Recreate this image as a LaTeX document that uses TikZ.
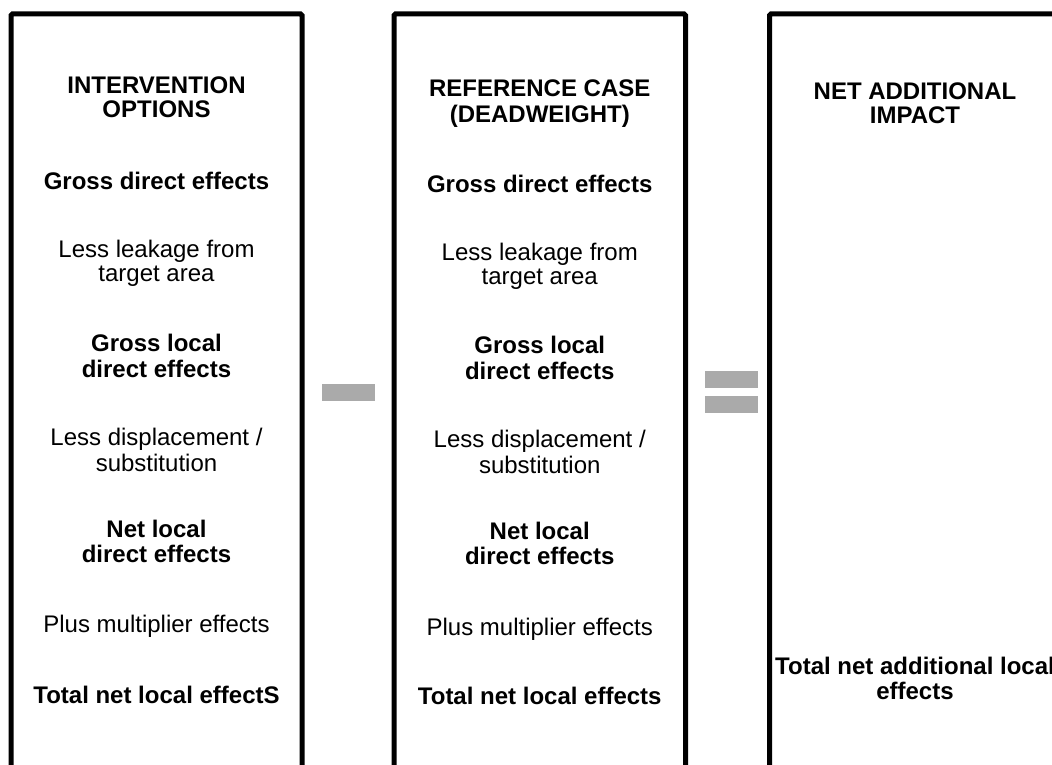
\documentclass[tikz,border=0pt]{standalone}
\usepackage{fontspec}
\setmainfont{Liberation Sans}
\definecolor{opgray}{RGB}{170,170,170}
\newcommand{\sline}[1]{\strut #1}
\begin{document}
\begin{tikzpicture}[x=1pt,y=-1pt,
  frame/.style={line width=5pt, rounded corners=1.5pt, draw=black},
  bold/.style={font=\fontsize{24}{24}\selectfont\bfseries, align=center, inner sep=0pt, anchor=center},
  plain/.style={font=\fontsize{24}{24}\selectfont, align=center, inner sep=0pt, anchor=center},
  bar/.style={fill=opgray, draw=none, minimum width=53pt, minimum height=17pt, inner sep=0pt}]
\useasboundingbox (0,0) rectangle (1052,765);
\clip (0,0) rectangle (1052,765);
% frames
\draw[frame] (11,790) -- (11,14) -- (302,14) -- (302,790);
\draw[frame] (394,790) -- (394,14) -- (685.5,14) -- (685.5,790);
\draw[frame] (769.5,790) -- (769.5,14) -- (1062,14) -- (1062,790);
% column 1
\node[bold]  (h1) at (156.5,101) {\strut INTERVENTION\\\strut OPTIONS};
\node[bold]  (a1) at (156.5,184.3) {\strut Gross direct effects};
\node[plain] (b1) at (156.5,264.8) {\strut Less leakage from\\\strut target area};
\node[bold]  (c1) at (156.5,359.3) {\strut Gross local\\\strut direct effects};
\node[plain] (d1) at (156.5,453.3) {\strut Less displacement /\\\strut substitution};
\node[bold]  (e1) at (156.5,544.8) {\strut Net local\\\strut direct effects};
\node[plain] (f1) at (156.5,627.8) {\strut Plus multiplier effects};
\node[bold]  (g1) at (156.5,698.8) {\strut Total net local effectS};
% column 2
\node[bold]  (h2) at (539.75,104.5) {\strut REFERENCE CASE\\\strut (DEADWEIGHT)};
\node[bold]  (a2) at (539.75,187.5) {\strut Gross direct effects};
\node[plain] (b2) at (539.75,267) {\strut Less leakage from\\\strut target area};
\node[bold]  (c2) at (539.75,361.5) {\strut Gross local\\\strut direct effects};
\node[plain] (d2) at (539.75,455.5) {\strut Less displacement /\\\strut substitution};
\node[bold]  (e2) at (539.75,547) {\strut Net local\\\strut direct effects};
\node[plain] (f2) at (539.75,630) {\strut Plus multiplier effects};
\node[bold]  (g2) at (539.75,699.5) {\strut Total net local effects};
% column 3
\node[bold]  (h3) at (915,106.3) {\strut NET ADDITIONAL\\\strut IMPACT};
\node[bold]  (g3) at (915,682) {\strut Total net additional local\\\strut effects};
% operators
\node[bar] (minus) at (348.5,392.5) {};
\node[bar] (eqtop) at (731.5,379.5) {};
\node[bar] (eqbot) at (731.5,404.5) {};
\end{tikzpicture}
\end{document}
